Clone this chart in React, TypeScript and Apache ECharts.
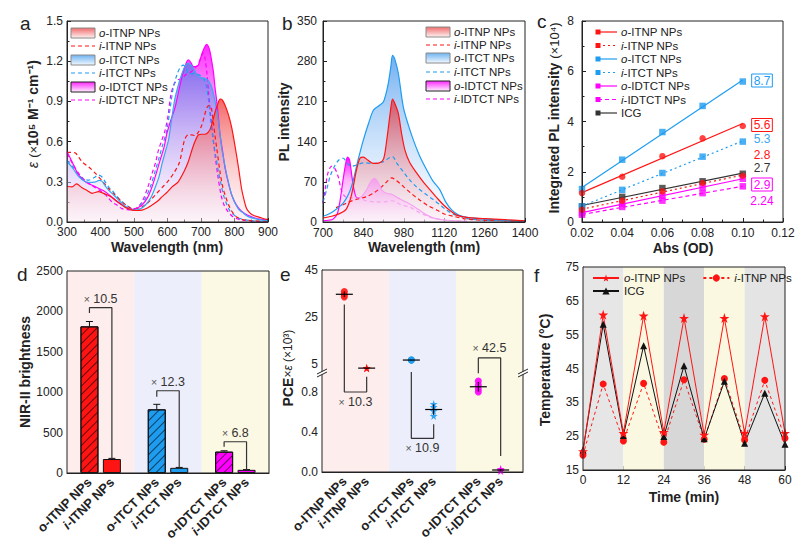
import React, { useEffect, useRef } from 'react';
import * as echarts from 'echarts';

type P = [number, number];

const FONT = "'Liberation Sans', Arial, Helvetica, sans-serif";
const INK = '#222';
const RED = '#ff1414';
const BLUE = '#1e9cf0';
const MAG = '#ff00ff';
const DARK = '#333';

// ---------- (a) absorption, ε (×10^5 M^-1 cm^-1) vs wavelength (nm)
const absOITNP: P[] = [[300,0.265],[315,0.262],[328,0.285],[345,0.255],[360,0.235],[375,0.214],[394,0.226],[414,0.209],[430,0.19],[444,0.164],[460,0.135],[474,0.109],[494,0.089],[510,0.086],[524,0.089],[540,0.105],[554,0.127],[570,0.155],[584,0.189],[600,0.225],[613,0.26],[632,0.3],[648,0.37],[662,0.45],[672,0.53],[682,0.6],[692,0.65],[702,0.655],[712,0.655],[722,0.67],[730,0.71],[742,0.82],[750,0.88],[757,0.918],[764,0.91],[772,0.87],[782,0.8],[792,0.7],[806,0.5],[814,0.37],[821,0.25],[828,0.17],[836,0.1],[845,0.07],[856,0.05],[875,0.035],[896,0.02],[900,0.02]];
const absIITNP: P[] = [[300,0.52],[312,0.52],[325,0.515],[345,0.45],[365,0.41],[385,0.363],[404,0.31],[424,0.25],[444,0.2],[464,0.15],[480,0.12],[494,0.1],[510,0.102],[524,0.114],[540,0.14],[554,0.176],[570,0.22],[585,0.26],[600,0.3],[620,0.37],[635,0.44],[645,0.55],[652,0.62],[662,0.65],[672,0.65],[682,0.645],[692,0.67],[702,0.72],[710,0.79],[717,0.85],[725,0.87],[731,0.85],[737,0.74],[742,0.64],[747,0.55],[757,0.37],[765,0.26],[772,0.2],[782,0.13],[792,0.08],[805,0.04],[821,0.02],[850,0.01],[900,0.005]];
const absOITCT: P[] = [[300,0.45],[315,0.41],[335,0.338],[355,0.3],[370,0.295],[385,0.3],[396,0.31],[404,0.305],[414,0.27],[424,0.238],[440,0.2],[454,0.164],[470,0.125],[484,0.1],[495,0.09],[504,0.089],[520,0.1],[534,0.127],[550,0.18],[564,0.263],[575,0.34],[584,0.437],[593,0.52],[603,0.612],[612,0.76],[622,0.92],[632,1.02],[642,1.1],[652,1.16],[662,1.185],[670,1.17],[677,1.147],[685,1.11],[692,1.085],[702,1.075],[712,1.072],[720,1.06],[727,1.035],[735,0.98],[742,0.9],[752,0.75],[762,0.55],[770,0.44],[777,0.35],[792,0.2],[811,0.1],[825,0.07],[841,0.04],[870,0.02],[900,0.01]];
const absIITCT: P[] = [[300,0.46],[318,0.41],[335,0.35],[350,0.32],[365,0.313],[380,0.33],[394,0.35],[404,0.338],[414,0.3],[424,0.263],[440,0.22],[454,0.176],[470,0.14],[484,0.114],[495,0.104],[504,0.1],[520,0.13],[534,0.176],[550,0.27],[564,0.388],[575,0.48],[584,0.562],[598,0.686],[608,0.85],[617,0.998],[627,1.09],[637,1.15],[647,1.17],[655,1.15],[662,1.11],[672,1.105],[682,1.11],[692,1.1],[702,1.085],[710,1.06],[717,1.0],[722,0.92],[727,0.8],[737,0.6],[745,0.48],[752,0.375],[760,0.28],[767,0.2],[777,0.13],[787,0.08],[800,0.05],[811,0.03],[850,0.01],[900,0.005]];
const absOIDTCT: P[] = [[300,0.525],[315,0.45],[335,0.35],[355,0.3],[370,0.28],[385,0.263],[400,0.245],[414,0.226],[430,0.195],[444,0.164],[460,0.135],[474,0.114],[485,0.1],[494,0.094],[510,0.105],[524,0.127],[540,0.18],[554,0.263],[566,0.36],[578,0.462],[590,0.56],[598,0.66],[610,0.76],[622,0.85],[632,0.96],[642,1.07],[652,1.16],[662,1.21],[670,1.19],[677,1.16],[685,1.16],[692,1.17],[702,1.25],[710,1.3],[717,1.326],[722,1.31],[727,1.27],[732,1.2],[737,1.12],[742,1.0],[747,0.9],[752,0.78],[757,0.65],[765,0.52],[772,0.4],[782,0.29],[792,0.2],[805,0.13],[821,0.08],[840,0.05],[861,0.03],[880,0.02],[900,0.015]];
const absIIDTCT: P[] = [[300,0.512],[318,0.43],[335,0.363],[350,0.32],[365,0.288],[385,0.255],[404,0.226],[420,0.19],[434,0.15],[450,0.125],[464,0.1],[480,0.092],[494,0.089],[510,0.11],[524,0.15],[540,0.25],[554,0.363],[565,0.45],[573,0.537],[583,0.61],[593,0.686],[602,0.8],[610,0.95],[620,1.03],[630,1.06],[642,1.07],[655,1.1],[670,1.12],[682,1.15],[692,1.18],[700,1.23],[706,1.26],[712,1.22],[718,1.1],[722,0.98],[728,0.82],[735,0.65],[742,0.5],[750,0.35],[760,0.2],[770,0.12],[780,0.08],[795,0.04],[820,0.015],[860,0.005],[900,0]];

// ---------- (b) PL spectra, intensity vs wavelength (nm)
const plOITCT: P[] = [[700,10],[720,14],[740,20],[770,33],[790,50],[805,73],[820,105],[840,143],[860,175],[875,195],[895,203],[910,210],[925,238],[935,270],[941,290],[948,285],[961,259],[978,201],[995,170],[1013,143],[1035,115],[1059,91],[1080,72],[1105,56],[1125,35],[1146,21],[1170,12],[1200,8],[1260,5],[1330,3],[1400,2]];
const plOITNP: P[] = [[700,7],[730,10],[759,15],[780,22],[795,40],[805,62],[815,88],[828,111],[840,113],[855,108],[874,102],[895,103],[910,110],[921,143],[933,190],[941,214],[950,205],[961,189],[972,155],[984,125],[1000,104],[1025,85],[1050,68],[1071,56],[1095,42],[1117,30],[1140,20],[1163,12],[1197,8],[1260,6],[1330,4],[1400,2]];
const plIITNP: P[] = [[745,25],[770,30],[790,35],[820,40],[850,44],[880,52],[905,62],[925,72],[938,77],[955,72],[978,62],[1005,50],[1036,38],[1065,28],[1094,21],[1120,14],[1151,10],[1200,5],[1260,3],[1330,2],[1400,1]];
const plIITCT: P[] = [[700,35],[712,55],[725,80],[740,97],[755,108],[770,111],[785,102],[800,97],[820,100],[840,103],[874,102],[909,105],[930,112],[941,114],[955,103],[967,95],[985,83],[1001,73],[1020,63],[1036,56],[1060,47],[1082,39],[1105,30],[1128,21],[1150,14],[1174,10],[1200,6],[1260,3],[1400,1]];
const plOIDTCT: P[] = [[700,2],[720,3],[735,5],[750,15],[760,40],[770,75],[778,100],[785,113],[792,108],[800,80],[808,55],[818,42],[833,44],[850,55],[865,70],[878,76],[890,70],[905,55],[920,50],[940,48],[960,42],[995,33],[1030,22],[1060,12],[1090,6],[1130,3],[1200,1]];
const plIIDTCT: P[] = [[700,33],[710,65],[717,85],[729,97],[740,94],[752,80],[764,55],[775,45],[790,42],[820,42],[850,37],[880,35],[910,35],[940,37],[970,30],[1000,26],[1040,15],[1080,7],[1130,3],[1200,1]];

// ---------- (c) integrated PL (×10^4) vs absorbance (OD)
const cAbs = [0.02, 0.04, 0.06, 0.08, 0.1];
const cOITNP = [1.15, 1.8, 2.62, 3.33, 3.82];
const cIITNP = [0.49, 0.85, 1.22, 1.55, 1.84];
const cOITCT = [1.31, 2.48, 3.58, 4.62, 5.59];
const cIITCT = [0.62, 1.28, 1.95, 2.6, 3.2];
const cOIDTCT = [0.36, 0.73, 1.05, 1.38, 1.72];
const cIIDTCT = [0.29, 0.6, 0.85, 1.15, 1.42];
const cICG = [0.62, 1.0, 1.35, 1.62, 1.92];
const cTags = ['8.7', '5.6', '5.3', '2.8', '2.7', '2.9', '2.24'];

// ---------- (d) NIR-II brightness
const groupNames = ['o-ITNP NPs', 'i-ITNP NPs', 'o-ITCT NPs', 'i-ITCT NPs', 'o-IDTCT NPs', 'i-IDTCT NPs'];
const groupPos = [1, 2, 4, 5, 7, 8];
const dBright = [1815, 173, 788, 64, 264, 39];
const dErr = [60, 8, 62, 5, 11, 3];
const dRatio = ['10.5', '12.3', '6.8'];
const dBracketTop = [2046, 1018, 387];
const dBracketLeftEnd = [1980, 944, 325];

// ---------- (e) PCE × ε (×10^3), replicate points per group
const ePts = [[35.9, 34.6, 33.6], [3.45, 3.38, 3.3], [6.9, 6.8, 6.7], [0.68, 0.65, 0.61, 0.56], [0.91, 0.87, 0.83, 0.8], [0.03, 0.02, 0.01]];
const eRatio = ['10.3', '10.9', '42.5'];

// ---------- (f) photothermal cycling
const fTime = [0, 6, 12, 18, 24, 30, 36, 42, 48, 54, 60];
const fOITNP = [20.5, 60.9, 25.9, 60.6, 26.2, 59.9, 25.4, 59.9, 25.9, 60.4, 25.9];
const fIITNP = [19.4, 40.4, 23.6, 40.6, 23.2, 41.7, 24.1, 42.0, 23.9, 41.5, 24.4];
const fICG = [20.9, 58.1, 25.2, 51.7, 24.9, 45.8, 24.2, 41.2, 22.9, 37.7, 22.6];

const STAR = 'path://M50 0L61.8 35.1H98.5L68.8 56.8L80.2 91.9L50 70.3L19.8 91.9L31.2 56.8L1.5 35.1H38.2Z';

// plot boxes [left, top, width, height]
const BOX: Record<string, number[]> = {
  a: [67, 21, 201, 201],
  b: [323, 21, 202, 201],
  c: [582, 21, 201, 201],
  d: [67, 271, 202, 202],
  eH: [322, 270, 201, 102],
  eL: [322, 372, 201, 100],
  f: [583, 267, 202, 203],
};
const GRID_KEYS = ['a', 'b', 'c', 'd', 'eH', 'eL', 'f'];

const zip = (xs: number[], ys: number[]) => xs.map((x, i) => [x, ys[i]]);
const grad = (stops: [number, string][]) =>
  new echarts.graphic.LinearGradient(0, 0, 0, 1, stops.map(([offset, color]) => ({ offset, color })));
const hgrad = (stops: [number, string][]) =>
  new echarts.graphic.LinearGradient(0, 0, 1, 0, stops.map(([offset, color]) => ({ offset, color })));

const rs = (size: number, weight = 'normal', style = 'normal', color = INK) => ({
  fontFamily: FONT, fontSize: size, fontWeight: weight, fontStyle: style, color, fill: color,
});

function linFit(xs: number[], ys: number[]) {
  const n = xs.length;
  const mx = xs.reduce((s, v) => s + v, 0) / n;
  const my = ys.reduce((s, v) => s + v, 0) / n;
  let sxy = 0, sxx = 0;
  for (let i = 0; i < n; i++) { sxy += (xs[i] - mx) * (ys[i] - my); sxx += (xs[i] - mx) ** 2; }
  const k = sxy / sxx;
  const b = my - k * mx;
  return [[xs[0], b + k * xs[0]], [xs[n - 1], b + k * xs[n - 1]]];
}
const mean = (a: number[]) => a.reduce((s, v) => s + v, 0) / a.length;
const sd = (a: number[]) => { const m = mean(a); return Math.sqrt(a.reduce((s, v) => s + (v - m) ** 2, 0) / (a.length - 1)); };

function valAxis(o: any) {
  const tick: any = { show: o.ticks !== false, inside: true, length: 4, lineStyle: { color: INK, width: 1 } };
  if (o.tickValues) tick.customValues = o.tickValues;
  const label: any = {
    show: o.labels !== false, color: INK, fontFamily: FONT, fontSize: 12, margin: o.margin ?? 4, hideOverlap: false,
    formatter: o.fmt || ((v: number) => String(Math.round(v * 1e6) / 1e6)),
  };
  if (o.labelValues) label.customValues = o.labelValues;
  Object.assign(label, o.label || {});
  const ax: any = {
    type: 'value', gridIndex: o.g, min: o.min, max: o.max, show: o.show !== false,
    axisLine: { show: true, onZero: false, lineStyle: { color: INK, width: 1 } },
    axisTick: tick,
    minorTick: { show: o.minor !== false && !o.tickValues, splitNumber: 2, length: 2.5, lineStyle: { color: INK, width: 1 } },
    splitLine: { show: false }, minorSplitLine: { show: false },
    axisLabel: label,
  };
  if (o.interval !== undefined) ax.interval = o.interval;
  return ax;
}

const groupLabel = {
  rotate: 45, margin: 7,
  formatter: (v: number) => {
    const k = groupPos.findIndex((p) => Math.abs(p - v) < 1e-6);
    if (k < 0) return '';
    const n = groupNames[k];
    return n.startsWith('i-') ? '{it|i}{b|' + n.slice(1) + '}' : '{b|' + n + '}';
  },
  rich: { b: rs(13, 'bold'), it: rs(13, 'bold', 'italic') },
};

// background bands drawn from axis values
const bandSeries = (gi: number, yMin: number, yMax: number, spans: [number, number, string][]) => ({
  type: 'custom', xAxisIndex: gi, yAxisIndex: gi, silent: true, z: 1,
  encode: { x: [0, 1], y: [2, 3] },
  data: spans.map(([a, b]) => [a, b, yMin, yMax]),
  renderItem: (params: any, api: any) => {
    const p0 = api.coord([api.value(0), api.value(3)]);
    const p1 = api.coord([api.value(1), api.value(2)]);
    return { type: 'rect', shape: { x: p0[0], y: p0[1], width: p1[0] - p0[0], height: p1[1] - p0[1] }, style: { fill: spans[params.dataIndex][2] } };
  },
});

const pathSeries = (gi: number, data: number[][], color = DARK, width = 1.2, type: any = 'solid') => ({
  type: 'line', xAxisIndex: gi, yAxisIndex: gi, data, symbol: 'none', silent: true, z: 5,
  lineStyle: { color, width, type },
});

// "× n" ratio tags anchored on bracket tops
const tagSeries = (gi: number, items: { x: number; y: number; dy: number; text: string }[]) => ({
  type: 'custom', xAxisIndex: gi, yAxisIndex: gi, silent: true, z: 8,
  encode: { x: 0, y: 1 },
  data: items.map((t) => [t.x, t.y]),
  renderItem: (params: any, api: any) => {
    const t = items[params.dataIndex];
    const p = api.coord([api.value(0), api.value(1)]);
    return {
      type: 'text', x: p[0], y: p[1] + t.dy,
      style: {
        text: '{x|×} {n|' + t.text + '}',
        rich: { x: rs(10.5, 'normal', 'normal', '#555'), n: rs(12.5, 'normal', 'normal', DARK) },
        align: 'center', verticalAlign: 'middle', textAlign: 'center', textVerticalAlign: 'middle',
      },
    };
  },
});

function buildOption() {
  const grid = GRID_KEYS.map((k) => {
    const [left, top, width, height] = BOX[k];
    return { left, top, width, height, show: false, containLabel: false, outerBoundsMode: 'none' };
  });

  const xAxis = [
    valAxis({ g: 0, min: 300, max: 900, interval: 100 }),
    valAxis({ g: 1, min: 700, max: 1400, interval: 140, margin: 5 }),
    valAxis({ g: 2, min: 0.02, max: 0.12, interval: 0.02, margin: 5, fmt: (v: number) => v.toFixed(2) }),
    valAxis({ g: 3, min: 0, max: 9, interval: 1, ticks: false, minor: false, label: groupLabel }),
    valAxis({ g: 4, min: 0, max: 9, interval: 1, show: false }),
    valAxis({ g: 5, min: 0, max: 9, interval: 1, ticks: false, minor: false, label: groupLabel }),
    valAxis({ g: 6, min: 0, max: 60, interval: 12 }),
  ];
  const yAxis = [
    valAxis({ g: 0, min: 0, max: 1.5, interval: 0.3, fmt: (v: number) => v.toFixed(1) }),
    valAxis({ g: 1, min: 0, max: 350, interval: 70, margin: 6 }),
    valAxis({ g: 2, min: 0, max: 8, interval: 2, margin: 8 }),
    valAxis({ g: 3, min: 0, max: 2500, interval: 500 }),
    valAxis({ g: 4, min: 1.73, max: 45, tickValues: [5, 15, 25, 35, 45], labelValues: [5, 25, 45] }),
    valAxis({ g: 5, min: 0, max: 1.0, tickValues: [0, 0.2, 0.4, 0.6, 0.8], labelValues: [0, 0.4, 0.8], fmt: (v: number) => v.toFixed(1) }),
    valAxis({ g: 6, min: 15, max: 75, interval: 10 }),
  ];

  const series: any[] = [];
  const area = (gi: number, data: any, fill: any) => series.push({
    type: 'line', xAxisIndex: gi, yAxisIndex: gi, data, symbol: 'none', smooth: 0.3, silent: true, z: 2,
    lineStyle: { width: 0, opacity: 0 }, areaStyle: { color: fill, opacity: 1 },
  });
  const curve = (gi: number, data: any, color: any, dashed = false, width = 1.2) => series.push({
    type: 'line', xAxisIndex: gi, yAxisIndex: gi, data, symbol: 'none', smooth: 0.3, silent: true, z: 3,
    lineStyle: { color, width, type: dashed ? [4, 3] : 'solid' },
  });

  // (a)
  area(0, absOIDTCT, grad([[0, 'rgba(255,30,255,0.95)'], [0.5, 'rgba(240,150,240,0.5)'], [1, 'rgba(255,230,255,0.1)']]));
  area(0, absOITCT, grad([[0, 'rgba(110,115,236,0.85)'], [1, 'rgba(234,235,255,0.15)']]));
  area(0, absOITNP, grad([[0, 'rgba(240,75,75,0.85)'], [1, 'rgba(255,225,230,0.25)']]));
  curve(0, absIIDTCT, MAG, true);
  curve(0, absIITCT, BLUE, true);
  curve(0, absIITNP, RED, true);
  curve(0, absOIDTCT, MAG);
  curve(0, absOITCT, '#3aa6f0');
  curve(0, absOITNP, RED);

  // (b)
  area(1, plOITCT, grad([[0, 'rgba(105,170,240,0.95)'], [1, 'rgba(235,244,255,0.3)']]));
  area(1, plOITNP, grad([[0, 'rgba(215,75,90,0.9)'], [1, 'rgba(255,235,242,0.4)']]));
  area(1, plOIDTCT, grad([[0, 'rgba(255,0,255,1)'], [0.35, 'rgba(250,130,245,0.6)'], [1, 'rgba(255,225,255,0.15)']]));
  curve(1, plIIDTCT, hgrad([[0, MAG], [0.13, MAG], [0.17, '#f7a6f2'], [1, '#f7a6f2']]), true);
  curve(1, plIITCT, BLUE, true);
  curve(1, plIITNP, RED, true);
  curve(1, plOIDTCT, hgrad([[0, MAG], [0.22, MAG], [0.26, '#f4a2ef'], [1, '#f4a2ef']]));
  curve(1, plOITCT, BLUE);
  curve(1, plOITNP, RED);

  // (c) least-squares lines through each set, then the measured points
  const cSets: [number[], string, any, string][] = [
    [cICG, DARK, 'solid', 'rect'],
    [cIIDTCT, MAG, [4, 3], 'rect'],
    [cOIDTCT, MAG, 'solid', 'rect'],
    [cIITCT, BLUE, [2, 3], 'rect'],
    [cOITCT, BLUE, 'solid', 'rect'],
    [cIITNP, RED, [2, 3], 'circle'],
    [cOITNP, RED, 'solid', 'circle'],
  ];
  cSets.forEach(([ys, color, type]) => series.push(pathSeries(2, linFit(cAbs, ys), color, 1.2, type)));
  cSets.forEach(([ys, color, , sym]) => series.push({
    type: 'scatter', xAxisIndex: 2, yAxisIndex: 2, data: zip(cAbs, ys), symbol: sym, symbolSize: 6.5, silent: true, z: 6,
    itemStyle: { color },
  }));

  // (d)
  series.push(bandSeries(3, 0, 2500, [[0, 3, '#fdeeed'], [3, 6, '#eceefb'], [6, 9, '#fbf8e3']]));
  const dColors = [RED, RED, BLUE, BLUE, MAG, MAG];
  const HATCH = { symbol: 'rect', symbolSize: 1, dashArrayX: [1, 0], dashArrayY: [1, 5], rotation: -Math.PI / 4, color: 'rgba(0,0,0,0.6)' };
  series.push({
    type: 'bar', xAxisIndex: 3, yAxisIndex: 3, barWidth: 18, silent: true, z: 3,
    data: dBright.map((v, k) => ({ value: [groupPos[k], v], itemStyle: { color: dColors[k], borderColor: '#111', borderWidth: 1, decal: k % 2 === 0 ? HATCH : 'none' } })),
  });
  series.push({
    type: 'custom', xAxisIndex: 3, yAxisIndex: 3, silent: true, z: 4, encode: { x: 0, y: 1 },
    data: dBright.map((v, k) => [groupPos[k], v, dErr[k]]),
    renderItem: (params: any, api: any) => {
      const x = api.value(0), v = api.value(1), e = api.value(2);
      const p0 = api.coord([x, v]);
      const p1 = api.coord([x, v + e]);
      return {
        type: 'group', children: [
          { type: 'line', shape: { x1: p0[0], y1: p0[1], x2: p1[0], y2: p1[1] }, style: { stroke: '#111', lineWidth: 1 } },
          { type: 'line', shape: { x1: p1[0] - 3.5, y1: p1[1], x2: p1[0] + 3.5, y2: p1[1] }, style: { stroke: '#111', lineWidth: 1 } },
        ],
      };
    },
  });
  [0, 1, 2].forEach((j) => {
    const xo = groupPos[2 * j], xi = groupPos[2 * j + 1];
    series.push(pathSeries(3, [[xo, dBracketLeftEnd[j]], [xo, dBracketTop[j]], [xi, dBracketTop[j]], [xi, dBright[2 * j + 1]]]));
  });
  series.push(tagSeries(3, [0, 1, 2].map((j) => ({ x: (groupPos[2 * j] + groupPos[2 * j + 1]) / 2, y: dBracketTop[j], dy: -9, text: dRatio[j] }))));

  // (e) broken axis: upper grid 4 (> 1.7), lower grid 5 (0 – 1.0)
  series.push(bandSeries(4, 1.73, 45, [[0, 3, '#fdeeed'], [3, 6, '#eceefb'], [6, 9, '#fbf8e3']]));
  series.push(bandSeries(5, 0, 1.0, [[0, 3, '#fdeeed'], [3, 6, '#eceefb'], [6, 9, '#fbf8e3']]));
  // brackets crossing the break
  series.push(pathSeries(4, [[1, 30.4], [1, 1.73]]));
  series.push(pathSeries(5, [[1, 1.0], [1, 0.8], [2, 0.8], [2, 0.953]]));
  series.push(pathSeries(5, [[4, 1.0], [4, 0.337], [5, 0.337], [5, 0.477]]));
  series.push(pathSeries(5, [[7, 0.987], [7, 1.0]]));
  series.push(pathSeries(4, [[7, 1.73], [7, 7.7], [8, 7.7], [8, 1.73]]));
  series.push(pathSeries(5, [[8, 1.0], [8, 0.16]]));
  const eColors = [RED, RED, BLUE, BLUE, MAG, MAG];
  ePts.forEach((pts, k) => {
    const gi = mean(pts) > 1 ? 4 : 5;
    series.push({
      type: 'scatter', xAxisIndex: gi, yAxisIndex: gi, silent: true, z: 6,
      data: pts.map((v) => [groupPos[k], v]),
      symbol: k % 2 === 0 ? 'circle' : STAR, symbolSize: k % 2 === 0 ? 7 : 8,
      itemStyle: { color: eColors[k], opacity: 0.9 },
    });
    series.push({
      type: 'custom', xAxisIndex: gi, yAxisIndex: gi, silent: true, z: 7, encode: { x: 0, y: 1 },
      data: [[groupPos[k], mean(pts), sd(pts)]],
      renderItem: (params: any, api: any) => {
        const x = api.value(0), m = api.value(1), s = api.value(2);
        const c = api.coord([x, m]);
        const up = api.coord([x, m + s]);
        const dn = api.coord([x, m - s]);
        return {
          type: 'group', children: [
            { type: 'line', shape: { x1: c[0] - 8.5, y1: c[1], x2: c[0] + 8.5, y2: c[1] }, style: { stroke: '#000', lineWidth: 1.2 } },
            { type: 'line', shape: { x1: c[0], y1: up[1], x2: c[0], y2: dn[1] }, style: { stroke: '#000', lineWidth: 1 } },
          ],
        };
      },
    });
  });
  series.push(tagSeries(5, [{ x: 1.5, y: 0.8, dy: 9.5, text: eRatio[0] }, { x: 4.5, y: 0.337, dy: 9.5, text: eRatio[1] }]));
  series.push(tagSeries(4, [{ x: 7.5, y: 7.7, dy: -10, text: eRatio[2] }]));

  // (f)
  series.push(bandSeries(6, 15, 75, [[0, 12, '#e6e6e6'], [12, 24, '#fbf8e1'], [24, 36, '#d7d7d7'], [36, 48, '#fbf8e1'], [48, 60, '#e4e4e4']]));
  series.push({
    name: 'fi', type: 'line', xAxisIndex: 6, yAxisIndex: 6, data: zip(fTime, fIITNP), symbol: 'circle', symbolSize: 7, silent: true, z: 4,
    lineStyle: { color: RED, width: 1, type: [3, 3] }, itemStyle: { color: RED },
  });
  series.push({
    name: 'fc', type: 'line', xAxisIndex: 6, yAxisIndex: 6, data: zip(fTime, fICG), symbol: 'triangle', symbolSize: 7, silent: true, z: 4,
    lineStyle: { color: '#111', width: 1 }, itemStyle: { color: '#111' },
  });
  series.push({
    name: 'fo', type: 'line', xAxisIndex: 6, yAxisIndex: 6, data: zip(fTime, fOITNP), symbol: STAR, symbolSize: 10, silent: true, z: 4,
    lineStyle: { color: RED, width: 1 }, itemStyle: { color: RED },
  });

  const fNames: Record<string, string> = { fo: '{i|o}{n|-ITNP NPs}', fi: '{i|i}{n|-ITNP NPs}', fc: '{n|ICG}' };
  const legendText = { color: INK, fontFamily: FONT, fontSize: 11.5, rich: { i: rs(11.5, 'normal', 'italic'), n: rs(11.5) } };
  const legend = [
    { left: 592, top: 272, padding: 0, itemWidth: 26, itemHeight: 9, itemGap: 17, selectedMode: false, data: ['fo', 'fi'], formatter: (n: string) => fNames[n], textStyle: legendText },
    { left: 592, top: 285, padding: 0, itemWidth: 26, itemHeight: 9, itemGap: 17, selectedMode: false, data: ['fc'], formatter: (n: string) => fNames[n], textStyle: legendText },
  ];

  // ---------- overlay graphics: frames, letters, axis titles, legends, tags
  const g: any[] = [];
  const frame = (l: number, t: number, w: number, h: number) => g.push({ type: 'rect', z: 100, silent: true, shape: { x: l, y: t, width: w, height: h }, style: { fill: 'none', stroke: INK, lineWidth: 1 } });
  ['a', 'b', 'c', 'd', 'f'].forEach((k) => frame(BOX[k][0], BOX[k][1], BOX[k][2], BOX[k][3]));
  frame(BOX.eH[0], BOX.eH[1], BOX.eH[2], BOX.eL[1] + BOX.eL[3] - BOX.eH[1]);

  const text = (x: number, y: number, t: string, o: any = {}) => g.push({
    type: 'text', x, y, z: 120, silent: true, rotation: o.rot || 0,
    style: {
      text: t, fill: o.color || INK, fontFamily: FONT, fontSize: o.size || 12, fontWeight: o.weight || 'normal', fontStyle: o.italic ? 'italic' : 'normal',
      align: o.align || 'left', verticalAlign: 'middle', textAlign: o.align || 'left', textVerticalAlign: 'middle',
      rich: o.rich, ...(o.box || {}),
    },
  });

  // panel letters
  [['a', 20, 23], ['b', 282, 23], ['c', 537, 21], ['d', 17, 274], ['e', 280, 274], ['f', 534, 275]].forEach(([l, x, y]) => text(x as number, y as number, l as string, { size: 19 }));

  // axis titles
  const R90 = Math.PI / 2;
  text(167, 246.5, 'Wavelength (nm)', { size: 14, weight: 'bold', align: 'center' });
  text(424, 246.5, 'Wavelength (nm)', { size: 14, weight: 'bold', align: 'center' });
  text(683, 248, 'Abs (OD)', { size: 14, weight: 'bold', align: 'center' });
  text(684, 497, 'Time (min)', { size: 14, weight: 'bold', align: 'center' });
  text(33, 114, '{i|ε }{n|(×}{b|10⁵ M⁻¹ cm⁻¹)}', { rot: R90, align: 'center', rich: { i: rs(14, 'normal', 'italic'), n: rs(13), b: rs(14, 'bold') } });
  text(284, 122, 'PL intensity', { rot: R90, align: 'center', size: 14, weight: 'bold' });
  text(554, 118, '{b|Integrated PL intensity }{n|(×10⁴)}', { rot: R90, align: 'center', rich: { b: rs(14, 'bold'), n: rs(13) } });
  text(25, 372, 'NIR-II brightness', { rot: R90, align: 'center', size: 14, weight: 'bold' });
  text(288, 368, '{b|PCE}{n|×}{i|ε}{n| (×10³)}', { rot: R90, align: 'center', rich: { b: rs(14, 'bold'), n: rs(12), i: rs(12, 'normal', 'italic') } });
  text(545, 370, 'Temperature (°C)', { rot: R90, align: 'center', size: 14, weight: 'bold' });

  // legends (a), (b)
  const legRich = { i: rs(11.5, 'normal', 'italic'), n: rs(11.5) };
  const swatch = (x0: number, y: number, top: string, bottom: string, border: string, label: string) => {
    g.push({ type: 'rect', z: 110, silent: true, shape: { x: x0, y: y - 5, width: 24, height: 10 }, style: { fill: grad([[0, top], [1, bottom]]), stroke: border, lineWidth: 1 } });
    text(x0 + 28, y, label, { rich: legRich });
  };
  const dashRow = (x0: number, y: number, color: string, label: string, dash: number[] = [4, 3]) => {
    g.push({ type: 'line', z: 110, silent: true, shape: { x1: x0, y1: y, x2: x0 + 24, y2: y }, style: { stroke: color, lineWidth: 1.2, lineDash: dash } });
    text(x0 + 28, y, label, { rich: legRich });
  };
  const legendAB = (x0: number, ys: number[]) => {
    swatch(x0, ys[0], '#f06c6c', '#fff2f2', '#8a8a8a', '{i|o}{n|-ITNP NPs}');
    dashRow(x0, ys[1], RED, '{i|i}{n|-ITNP NPs}');
    swatch(x0, ys[2], '#6fb3f0', '#f1f8ff', '#8a8a8a', '{i|o}{n|-ITCT NPs}');
    dashRow(x0, ys[3], BLUE, '{i|i}{n|-ITCT NPs}');
    swatch(x0, ys[4], '#ff28ff', '#fff0ff', '#222', '{i|o}{n|-IDTCT NPs}');
    dashRow(x0, ys[5], MAG, '{i|i}{n|-IDTCT NPs}');
  };
  legendAB(71, [33, 46, 60, 73, 87, 100]);
  legendAB(426, [32, 45, 58, 72, 86, 99]);

  // legend (c): marker at the left end of each line
  const cLeg: [string, number[] | null, string][] = [
    [RED, null, '{i|o}{n|-ITNP NPs}'],
    [RED, [2, 3], '{i|i}{n|-ITNP NPs}'],
    [BLUE, null, '{i|o}{n|-ITCT NPs}'],
    [BLUE, [2, 3], '{i|i}{n|-ITCT NPs}'],
    [MAG, null, '{i|o}{n|-IDTCT NPs}'],
    [MAG, [4, 3], '{i|i}{n|-IDTCT NPs}'],
    [DARK, null, '{n|ICG}'],
  ];
  cLeg.forEach(([color, dash, label], i) => {
    const y = 32 + i * 13.5;
    g.push({ type: 'line', z: 110, silent: true, shape: { x1: 598, y1: y, x2: 617, y2: y }, style: { stroke: color, lineWidth: 1.2, lineDash: dash || undefined } });
    g.push({ type: 'rect', z: 111, silent: true, shape: { x: 595.5, y: y - 2.5, width: 5, height: 5 }, style: { fill: color } });
    text(621, y, label, { rich: legRich });
  });

  // quantum-yield tags in (c)
  const tagStyle: [string, number, boolean][] = [[BLUE, 80.5, true], [RED, 125, true], ['#39a8f0', 139, false], [RED, 154.5, false], [DARK, 167.5, false], [MAG, 184.5, true], [MAG, 200.5, false]];
  tagStyle.forEach(([color, y, boxed], i) => text(762, y, cTags[i], {
    color, size: 12, align: 'center',
    box: boxed ? { borderColor: color, borderWidth: 1, padding: [1, 2, 0, 2] } : {},
  }));

  // axis break marks for (e)
  [BOX.eH[0], BOX.eH[0] + BOX.eH[2]].forEach((x) => {
    const y = BOX.eL[1];
    g.push({ type: 'polygon', z: 130, silent: true, shape: { points: [[x - 5, y + 2], [x + 5, y - 3], [x + 5, y], [x - 5, y + 5]] }, style: { fill: '#fff' } });
    g.push({ type: 'line', z: 131, silent: true, shape: { x1: x - 5, y1: y + 2, x2: x + 5, y2: y - 3 }, style: { stroke: INK, lineWidth: 1 } });
    g.push({ type: 'line', z: 131, silent: true, shape: { x1: x - 5, y1: y + 5, x2: x + 5, y2: y }, style: { stroke: INK, lineWidth: 1 } });
  });

  return {
    animation: false,
    backgroundColor: '#fff',
    textStyle: { fontFamily: FONT },
    grid, xAxis, yAxis, series, legend,
    graphic: { elements: g },
  };
}

export default function App() {
  const ref = useRef<HTMLDivElement>(null);
  useEffect(() => {
    document.body.style.margin = '0';
    const chart = echarts.init(ref.current as HTMLDivElement, null, { renderer: 'svg', width: 799, height: 544 });
    chart.setOption(buildOption() as any);
    return () => chart.dispose();
  }, []);
  return <div ref={ref} style={{ width: 799, height: 544, background: '#fff' }} />;
}
